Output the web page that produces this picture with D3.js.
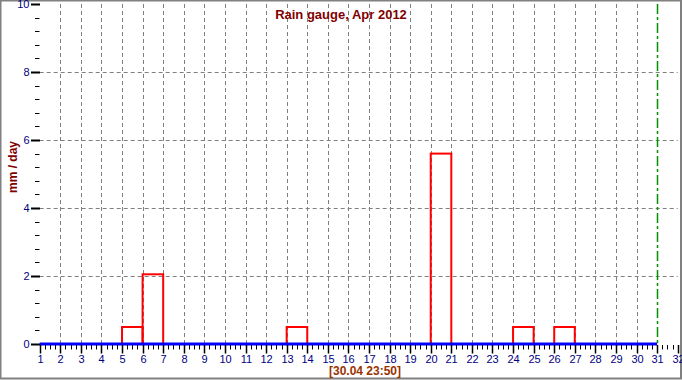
<!DOCTYPE html>
<html>
<head>
<meta charset="utf-8">
<script src="https://cdn.jsdelivr.net/npm/d3@7"></script>
<style>
  body { margin: 0; background: #fff; }
  svg { display: block; }
  .tick-label { font-family: "Liberation Sans Narrow", "Liberation Sans", Arial, sans-serif; font-size: 11px; fill: #000080; }
</style>
</head>
<body>
<svg width="682" height="380"></svg>
<script>
// daily rain, mm/day, Apr 1..30
var days = d3.range(1, 31);
var rain = [0, 0, 0, 0, 0.5, 2.05, 0, 0, 0, 0,
            0, 0, 0.5, 0, 0, 0, 0, 0, 0, 5.6,
            0, 0, 0, 0.5, 0, 0.5, 0, 0, 0, 0];
var yTicks = [0, 2, 4, 6, 8, 10];
var xTicks = d3.range(1, 33);
var title = "Rain gauge, Apr 2012";
var yLabel = "mm / day";
var stamp = "[30.04 23:50]";
var nowDay = 31;

var svg = d3.select("svg");

var x = d3.scaleLinear().domain([1, 32]).range([39.7, 677.7]);
var y = d3.scaleLinear().domain([0, 10]).range([344, 4]);

// frame
svg.append("rect")
    .attr("x", 0.5).attr("y", 0.5).attr("width", 680.5).attr("height", 378)
    .attr("fill", "none").attr("stroke", "#808080").attr("stroke-width", 2);

// grid
svg.append("g").selectAll("line")
    .data(yTicks.filter(function(d) { return d > 0 && d < 10; }))
    .enter().append("line")
    .attr("x1", x(1)).attr("x2", x(32))
    .attr("y1", function(d) { return Math.round(y(d)) + 0.5; })
    .attr("y2", function(d) { return Math.round(y(d)) + 0.5; })
    .attr("stroke", "#808080").attr("stroke-dasharray", "4,3");

svg.append("g").selectAll("line")
    .data(d3.range(2, 31))
    .enter().append("line")
    .attr("x1", function(d) { return Math.round(x(d)) + 0.5; })
    .attr("x2", function(d) { return Math.round(x(d)) + 0.5; })
    .attr("y1", y(10)).attr("y2", y(0))
    .attr("stroke", "#808080").attr("stroke-dasharray", "4,3");

// "now" marker
svg.append("line")
    .attr("x1", Math.round(x(nowDay)) + 0.5).attr("x2", Math.round(x(nowDay)) + 0.5)
    .attr("y1", y(10)).attr("y2", y(0))
    .attr("stroke", "#009000").attr("stroke-width", 1.5)
    .attr("stroke-dasharray", "10,3,3,3");

// bars
svg.append("g").selectAll("rect")
    .data(days.filter(function(d, i) { return rain[i] > 0; }))
    .enter().append("rect")
    .attr("x", function(d) { return x(d); })
    .attr("width", function(d) { return x(d + 1) - x(d); })
    .attr("y", function(d) { return y(rain[d - 1]); })
    .attr("height", function(d) { return y(0) - y(rain[d - 1]); })
    .attr("fill", "none").attr("stroke", "#ff0000").attr("stroke-width", 2);

// x axis
svg.append("line")
    .attr("x1", x(1)).attr("x2", x(nowDay))
    .attr("y1", y(0)).attr("y2", y(0))
    .attr("stroke", "#0000ff").attr("stroke-width", 3);

var xMinor = d3.range(1, 32, 0.25).filter(function(d) { return d % 1 != 0; });
svg.append("g").selectAll("line")
    .data(xMinor)
    .enter().append("line")
    .attr("x1", function(d) { return Math.round(x(d)) + 0.5; })
    .attr("x2", function(d) { return Math.round(x(d)) + 0.5; })
    .attr("y1", 345).attr("y2", 349.5)
    .attr("stroke", "#000");

var xg = svg.append("g").selectAll("g")
    .data(xTicks)
    .enter().append("g")
    .attr("transform", function(d) { return "translate(" + (Math.round(x(d)) + 0.5) + ",0)"; });
xg.append("line").attr("y1", 345).attr("y2", 353.5).attr("stroke", "#000").attr("stroke-width", 1.5);
xg.append("text").attr("class", "tick-label")
    .attr("y", 363).attr("text-anchor", "middle")
    .text(function(d) { return d; });

// y axis
var yMinor = d3.range(0, 10.01, 0.4).filter(function(d) { return Math.abs(d / 2 - Math.round(d / 2)) > 0.01; });
svg.append("g").selectAll("line")
    .data(yMinor)
    .enter().append("line")
    .attr("x1", 35).attr("x2", 39.5)
    .attr("y1", function(d) { return Math.round(y(d)) + 0.5; })
    .attr("y2", function(d) { return Math.round(y(d)) + 0.5; })
    .attr("stroke", "#000");

var yg = svg.append("g").selectAll("g")
    .data(yTicks)
    .enter().append("g")
    .attr("transform", function(d) { return "translate(0," + (Math.round(y(d)) + 0.5) + ")"; });
yg.append("line").attr("x1", 31).attr("x2", 40).attr("stroke", "#000").attr("stroke-width", 2);
yg.append("text").attr("class", "tick-label")
    .attr("x", 29.5).attr("dy", "0.35em").attr("text-anchor", "end")
    .text(function(d) { return d; });

// labels
svg.append("text")
    .attr("x", 341).attr("y", 19).attr("text-anchor", "middle")
    .style("font-family", "'Liberation Sans', Arial, sans-serif")
    .style("font-size", "13px").style("font-weight", "bold")
    .attr("fill", "#800000")
    .text(title);

svg.append("text")
    .attr("transform", "translate(16.5,167) rotate(-90)")
    .attr("text-anchor", "middle")
    .style("font-family", "'Liberation Sans', Arial, sans-serif")
    .style("font-size", "12px").style("font-weight", "bold")
    .attr("fill", "#800000")
    .text(yLabel);

svg.append("text")
    .attr("x", 365).attr("y", 375).attr("text-anchor", "middle")
    .style("font-family", "'Liberation Sans Narrow', 'Liberation Sans', Arial, sans-serif")
    .style("font-size", "12px").style("font-weight", "bold")
    .attr("fill", "#993300")
    .text(stamp);
</script>
</body>
</html>
